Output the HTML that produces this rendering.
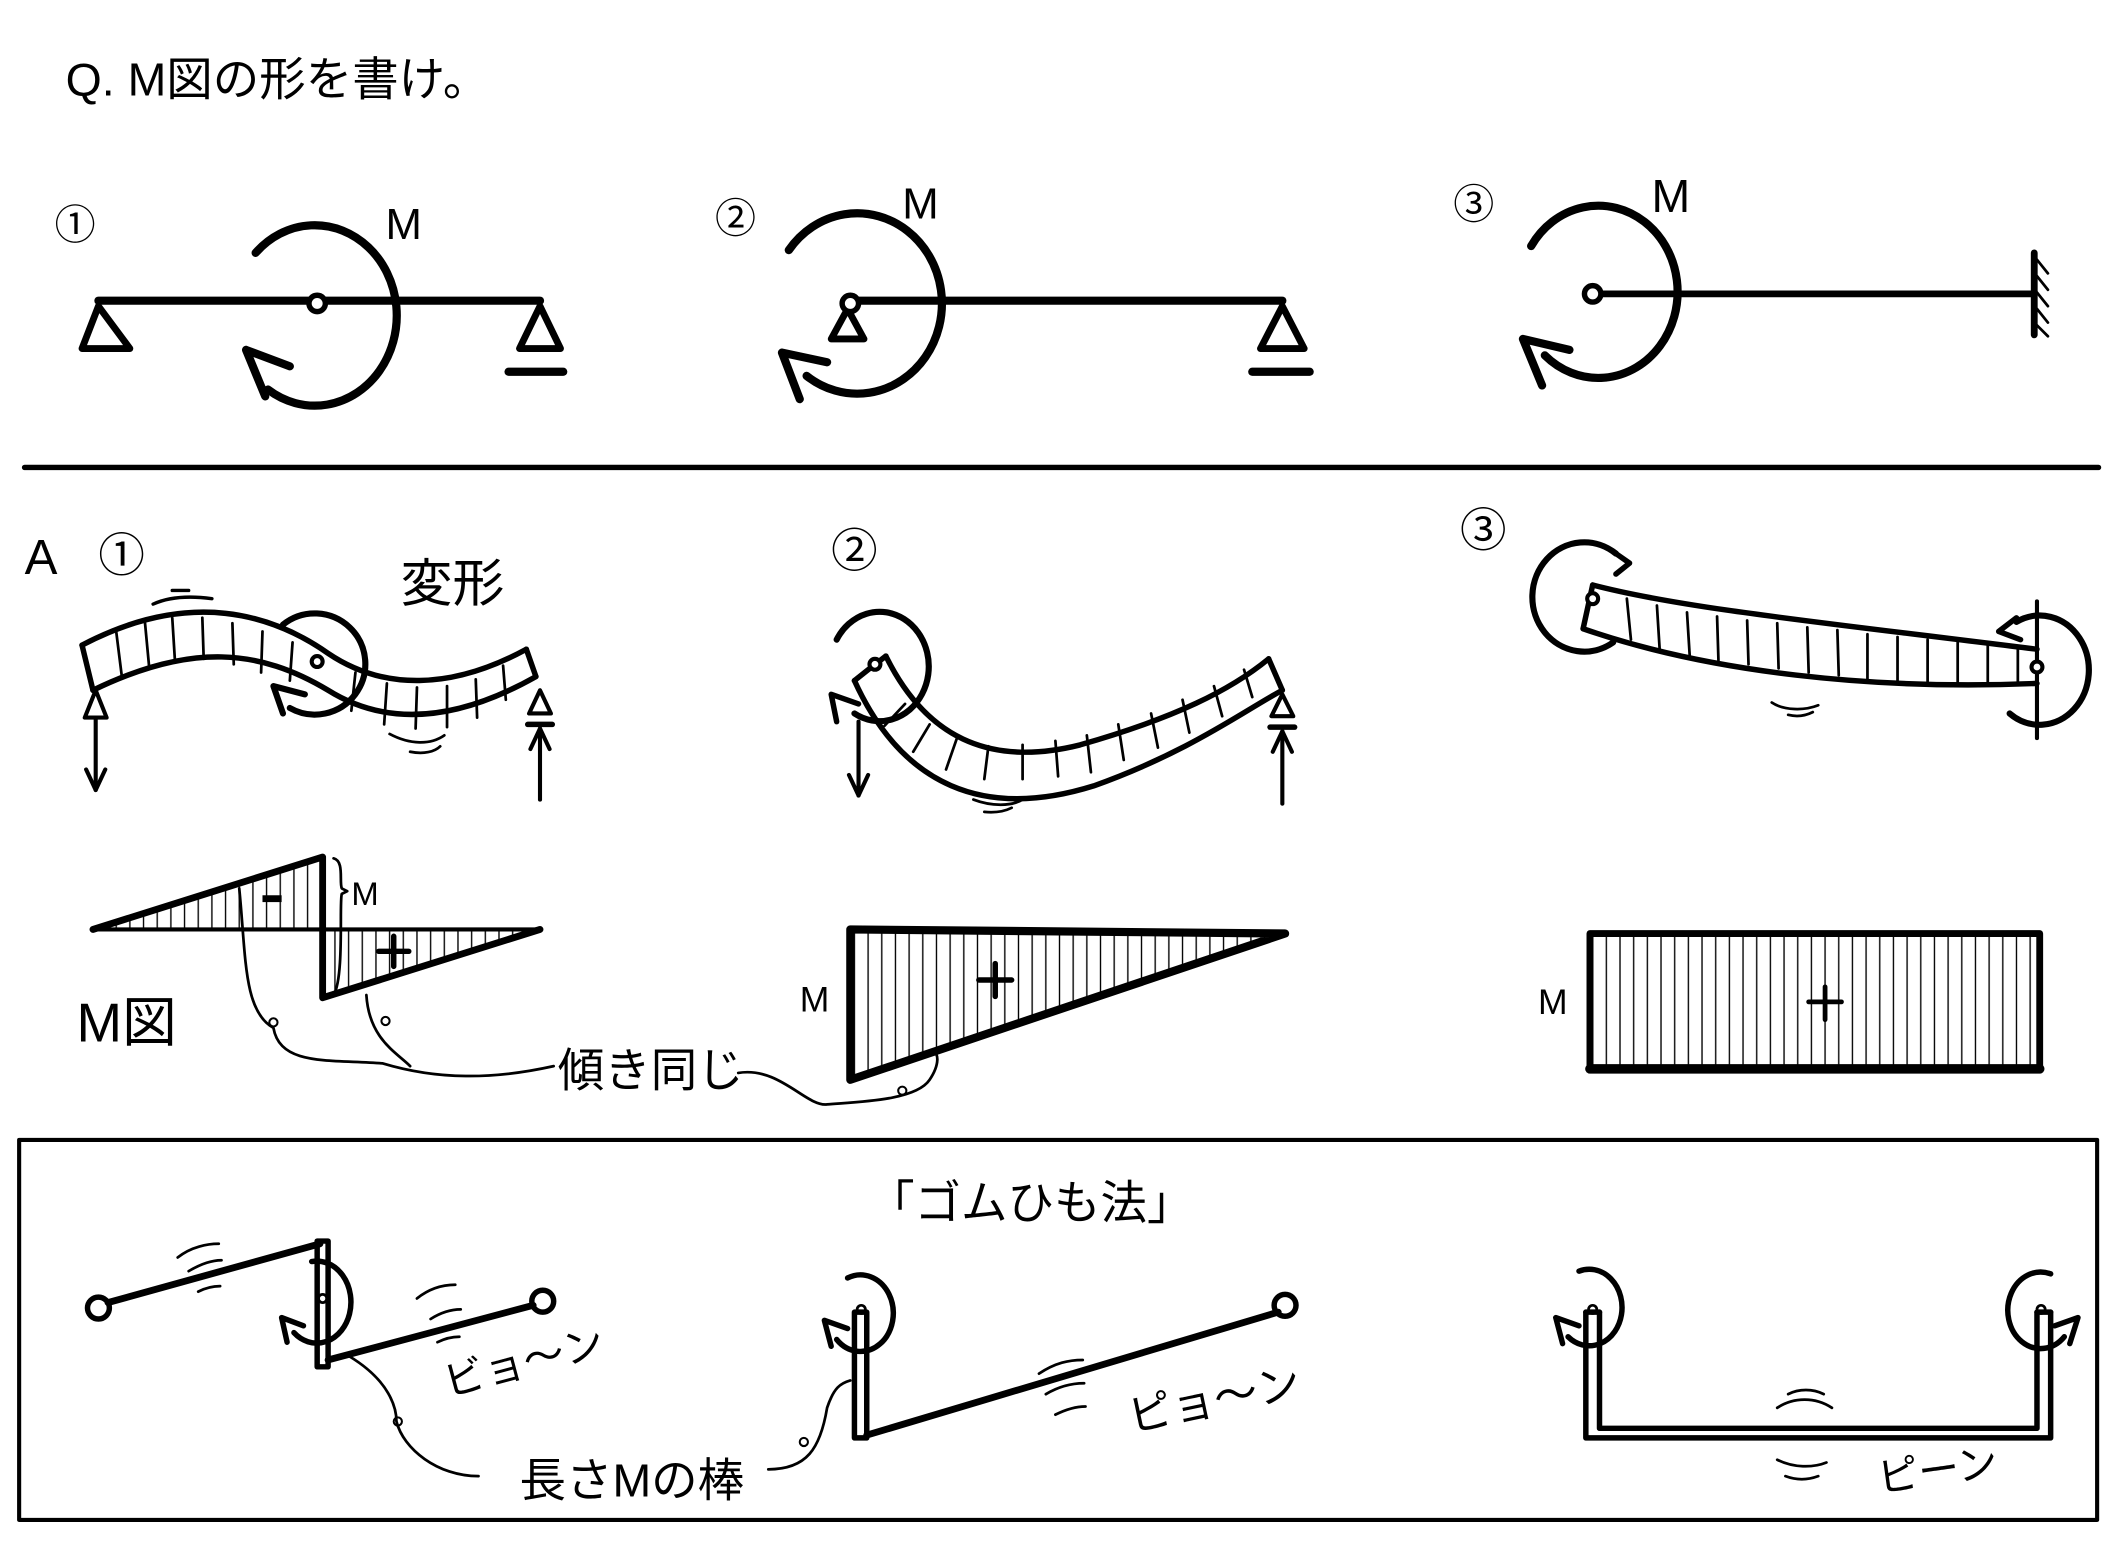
<!DOCTYPE html>
<html><head><meta charset="utf-8"><style>
html,body{margin:0;padding:0;background:#fff;}
svg{display:block;}
text{font-family:"Liberation Sans","Noto Sans CJK JP",sans-serif;fill:#000;}
</style></head><body>
<svg width="2119" height="1565" viewBox="0 0 1550 1145" preserveAspectRatio="none" xmlns="http://www.w3.org/2000/svg">
<defs>
<pattern id="h" width="10" height="10" patternUnits="userSpaceOnUse"><line x1="5" y1="0" x2="5" y2="10" stroke="#000" stroke-width="1"/></pattern>
</defs>
<g fill="none" stroke="#000" stroke-linecap="round" stroke-linejoin="round">
<text x="48" y="70" font-size="34" stroke="none">Q. M図の形を書け。</text>

<!-- Q1 -->
<text x="40" y="175" font-size="30" stroke="none">①</text>
<text x="282" y="175" font-size="32" stroke="none">M</text>
<line x1="72" y1="220" x2="395" y2="220" stroke-width="6"/>
<path d="M72,224 L60,255 L95,255 Z" stroke-width="5"/>
<path d="M395,224 L380,255 L410,255 Z" stroke-width="5"/>
<line x1="372" y1="272" x2="412" y2="272" stroke-width="6"/>
<path d="M187,185 A60,66 0 1 1 196,285" stroke-width="6"/>
<path d="M180,256 L194,290 M180,256 L212,268" stroke-width="6"/>
<circle cx="232" cy="222" r="6" fill="#fff" stroke-width="4"/>

<!-- Q2 -->
<text x="523" y="170" font-size="30" stroke="none">②</text>
<text x="660" y="160" font-size="32" stroke="none">M</text>
<line x1="622" y1="220" x2="938" y2="220" stroke-width="6"/>
<path d="M620,226 L608,248 L632,248 Z" stroke-width="5"/>
<path d="M938,224 L922,255 L954,255 Z" stroke-width="5"/>
<line x1="916" y1="272" x2="958" y2="272" stroke-width="6"/>
<path d="M577,183 A62,66 0 1 1 590,275" stroke-width="6"/>
<path d="M572,258 L585,292 M572,258 L605,265" stroke-width="6"/>
<circle cx="622" cy="222" r="6" fill="#fff" stroke-width="4"/>

<!-- Q3 -->
<text x="1063" y="160" font-size="30" stroke="none">③</text>
<text x="1208" y="155" font-size="34" stroke="none">M</text>
<line x1="1165" y1="215" x2="1488" y2="215" stroke-width="5"/>
<line x1="1488" y1="185" x2="1488" y2="245" stroke-width="5"/>
<path d="M1490,190 l8,10 M1490,202 l8,10 M1490,214 l8,10 M1490,226 l8,10 M1490,238 l8,8" stroke-width="2"/>
<path d="M1120,180 A58,63 0 1 1 1130,260" stroke-width="6"/>
<path d="M1114,248 L1128,282 M1114,248 L1148,256" stroke-width="6"/>
<circle cx="1165" cy="215" r="6" fill="#fff" stroke-width="4"/>

<line x1="18" y1="342" x2="1535" y2="342" stroke-width="4"/>

<!-- A1 -->
<text x="18" y="420" font-size="36" stroke="none">A</text>
<text x="72" y="418" font-size="34" stroke="none">①</text>
<text x="293" y="440" font-size="38" stroke="none">変形</text>
<path d="M112,442 C125,436 140,436 155,438 M126,432 h12" stroke-width="2.5"/>
<path d="M60,472 C140,430 200,450 240,478 C280,505 330,505 385,475" stroke-width="4"/>
<path d="M68,505 C140,470 190,475 240,505 C280,530 330,530 392,495" stroke-width="4"/>
<path d="M60,472 L68,505 M385,475 L392,495" stroke-width="4"/>
<path d="M85,462 l4,32 M106,455 l3,32 M126,452 l2,32 M148,452 l1,30 M170,456 l1,30 M192,462 l-1,30 M214,470 l-2,28 M260,492 l-3,28 M283,500 l-2,30 M305,503 l-1,30 M327,502 l0,30 M348,497 l1,28 M368,487 l2,25" stroke-width="2"/>
<path d="M207,457 A37,37 0 1 1 212,518" stroke-width="4.5"/>
<path d="M207,522 L200,502 L223,508" stroke-width="4.5"/>
<circle cx="232" cy="484" r="4" fill="#fff" stroke-width="3"/>
<path d="M70,505 L62,525 L78,525 Z" stroke-width="3"/>
<line x1="70" y1="525" x2="70" y2="578" stroke-width="3"/>
<path d="M63,563 L70,578 L77,563" stroke-width="3"/>
<path d="M395,505 L387,522 L403,522 Z" stroke-width="3"/>
<line x1="386" y1="530" x2="404" y2="530" stroke-width="4"/>
<line x1="395" y1="533" x2="395" y2="585" stroke-width="3"/>
<path d="M388,548 L395,533 L402,548" stroke-width="3"/>
<path d="M285,537 C300,545 315,545 325,538 M300,550 C310,552 318,550 322,546" stroke-width="2"/>

<!-- A2 -->
<text x="608" y="415" font-size="34" stroke="none">②</text>
<path d="M612,468 A36,40 0 1 1 625,522" stroke-width="4.5"/>
<path d="M612,528 L608,508 L628,515" stroke-width="4"/>
<path d="M625,498 C660,575 720,600 800,575 C870,550 910,520 938,505" stroke-width="4"/>
<path d="M648,480 C680,545 730,560 790,545 C860,525 900,505 928,482" stroke-width="4"/>
<path d="M928,482 L938,505 M625,498 L635,490 L648,480" stroke-width="4"/>
<path d="M662,515 l-15,16 M680,530 l-12,20 M700,540 l-8,23 M723,546 l-3,24 M748,545 l0,25 M772,542 l2,26 M795,538 l3,27 M818,530 l4,26 M842,522 l5,25 M865,512 l5,24 M888,502 l6,22 M910,490 l6,20" stroke-width="2"/>
<circle cx="640" cy="486" r="4" fill="#fff" stroke-width="3"/>
<line x1="628" y1="528" x2="628" y2="582" stroke-width="3"/>
<path d="M621,567 L628,582 L635,567" stroke-width="3"/>
<path d="M938,508 L930,524 L946,524 Z" stroke-width="3"/>
<line x1="929" y1="532" x2="947" y2="532" stroke-width="4"/>
<line x1="938" y1="535" x2="938" y2="588" stroke-width="3"/>
<path d="M931,550 L938,535 L945,550" stroke-width="3"/>
<path d="M712,585 C725,590 740,590 748,585 M720,594 C730,595 736,593 740,591" stroke-width="2"/>

<!-- A3 -->
<text x="1068" y="400" font-size="34" stroke="none">③</text>
<path d="M1165,428 C1230,445 1330,455 1490,475" stroke-width="4"/>
<path d="M1158,460 C1250,492 1370,505 1490,500" stroke-width="4"/>
<path d="M1165,428 L1158,460" stroke-width="4"/>
<path d="M1190,438 l3,30 M1212,443 l2,32 M1234,448 l2,32 M1256,451 l1,32 M1278,454 l1,32 M1300,456 l1,33 M1322,459 l1,33 M1344,461 l1,33 M1366,464 l0,33 M1388,466 l0,32 M1410,468 l0,32 M1432,470 l0,31 M1454,472 l0,29 M1476,474 l0,27" stroke-width="2"/>
<path d="M1182,405 A38,40 0 1 0 1180,470" stroke-width="4.5"/>
<path d="M1182,405 L1192,412 L1182,420" stroke-width="4"/>
<circle cx="1165" cy="438" r="4" fill="#fff" stroke-width="3"/>
<path d="M1475,455 A36,40 0 1 1 1470,522" stroke-width="4.5"/>
<path d="M1462,462 L1475,452 M1462,462 L1478,468" stroke-width="4"/>
<line x1="1490" y1="440" x2="1490" y2="540" stroke-width="3"/>
<circle cx="1490" cy="488" r="4" fill="#fff" stroke-width="3"/>
<path d="M1296,514 C1305,520 1320,520 1330,516 M1308,523 C1316,525 1322,523 1326,521" stroke-width="2"/>

<!-- M diagram 1 -->
<path d="M68,680 L236,627 L236,680 Z" fill="url(#h)" stroke="none"/>
<path d="M236,680 L395,680 L236,730 Z" fill="url(#h)" stroke="none"/>
<path d="M68,680 L236,627 L236,730 L395,680" stroke-width="5"/>
<line x1="68" y1="680" x2="395" y2="680" stroke-width="3"/>
<rect x="192" y="655" width="14" height="5" fill="#000" stroke="none"/>
<path d="M288,685 v22 M277,696 h22" stroke-width="4"/>
<path d="M244,628 C252,630 248,645 250,650 L254,652 L250,654 C248,660 252,715 244,728" stroke-width="2"/>
<text x="257" y="662" font-size="24" stroke="none">M</text>
<text x="56" y="762" font-size="40" stroke="none">M図</text>
<path d="M175,650 C180,700 178,740 200,752 C205,780 240,775 280,778 C320,790 360,790 405,780" stroke-width="2"/>
<path d="M268,728 C270,760 290,770 300,780" stroke-width="2"/>
<circle cx="200" cy="748" r="3" stroke-width="1.5"/>
<circle cx="282" cy="747" r="3" stroke-width="1.5"/>
<text x="408" y="795" font-size="34" stroke="none">傾き同じ</text>
<path d="M540,785 C570,780 590,810 605,808 C630,806 670,805 680,790 C688,778 686,770 683,770" stroke-width="2"/>
<circle cx="660" cy="798" r="3" stroke-width="1.5"/>

<!-- M diagram 2 -->
<path d="M622,680 L940,683 L622,790 Z" fill="url(#h)" stroke="none"/>
<path d="M622,680 L940,683 L622,790 Z" stroke-width="6"/>
<path d="M728,705 v24 M716,717 h24" stroke-width="4"/>
<text x="585" y="740" font-size="26" stroke="none">M</text>

<!-- M diagram 3 -->
<rect x="1163" y="683" width="329" height="99" fill="url(#h)" stroke-width="5"/>
<line x1="1163" y1="782" x2="1492" y2="782" stroke-width="7"/>
<path d="M1335,722 v24 M1323,733 h24" stroke-width="3.5"/>
<text x="1125" y="742" font-size="26" stroke="none">M</text>

<!-- box -->
<rect x="14" y="834" width="1520" height="278" stroke-width="3"/>
<text x="635" y="892" font-size="34" stroke="none">「ゴムひも法」</text>

<!-- rubber 1 -->
<circle cx="72" cy="957" r="8" stroke-width="4"/>
<line x1="79" y1="953" x2="234" y2="910" stroke-width="5"/>
<path d="M232,908 V1000 H240 V908 Z" stroke-width="4"/>
<path d="M240,995 L390,955" stroke-width="5"/>
<circle cx="397" cy="952" r="8" stroke-width="4"/>
<path d="M228,923 A25,30 0 1 1 215,975" stroke-width="4"/>
<path d="M210,982 L206,964 L222,970" stroke-width="4"/>
<circle cx="236" cy="950" r="3" stroke-width="2"/>
<path d="M130,920 c10,-8 22,-10 30,-10 M138,930 c10,-6 18,-8 24,-8 M145,945 c6,-3 12,-4 16,-4" stroke-width="2"/>
<path d="M305,950 c10,-8 20,-10 28,-10 M315,965 c8,-5 16,-7 22,-7 M320,982 c6,-3 12,-4 16,-4" stroke-width="2"/>
<text x="328" y="1022" font-size="30" stroke="none" transform="rotate(-15 328 1022)">ビョ〜ン</text>
<path d="M255,992 C285,1010 290,1030 290,1040 C295,1060 320,1080 350,1080" stroke-width="2"/>
<circle cx="291" cy="1040" r="3" stroke-width="1.5"/>
<text x="380" y="1095" font-size="34" stroke="none">長さMの棒</text>
<path d="M562,1075 C590,1075 600,1060 605,1030 C610,1015 615,1012 622,1010" stroke-width="2"/>
<circle cx="588" cy="1055" r="3" stroke-width="1.5"/>

<!-- rubber 2 -->
<path d="M625,960 V1052 H634 V960 Z" stroke-width="4"/>
<path d="M634,1050 L935,960" stroke-width="5"/>
<circle cx="940" cy="955" r="8" stroke-width="4"/>
<path d="M620,935 A24,28 0 1 1 612,980" stroke-width="4"/>
<path d="M608,985 L603,966 L620,972" stroke-width="4"/>
<circle cx="630" cy="958" r="3" stroke-width="2"/>
<path d="M760,1005 c12,-8 22,-10 32,-10 M765,1020 c10,-6 20,-8 28,-8 M772,1035 c8,-4 16,-6 22,-6" stroke-width="2"/>
<text x="828" y="1048" font-size="32" stroke="none" transform="rotate(-12 828 1048)">ピョ〜ン</text>

<!-- rubber 3 -->
<path d="M1160,960 V1052 H1500 V960 M1170,960 V1045 H1490 V960" stroke-width="4"/>
<path d="M1160,960 H1170 M1490,960 H1500" stroke-width="4"/>
<path d="M1155,930 A24,28 0 1 1 1147,978" stroke-width="4"/>
<path d="M1143,983 L1138,964 L1155,970" stroke-width="4"/>
<circle cx="1165" cy="958" r="3" stroke-width="2"/>
<path d="M1500,932 A24,28 0 1 0 1510,978" stroke-width="4"/>
<path d="M1514,983 L1520,964 L1503,970" stroke-width="4"/>
<circle cx="1493" cy="958" r="3" stroke-width="2"/>
<path d="M1300,1030 c12,-8 28,-8 40,0 M1308,1020 c8,-4 18,-4 26,0" stroke-width="2"/>
<path d="M1300,1068 c12,6 26,6 36,2 M1306,1080 c8,3 16,3 24,0" stroke-width="2"/>
<text x="1375" y="1092" font-size="30" stroke="none" transform="rotate(-8 1375 1092)">ピーン</text>
</g>
</svg>
</body></html>
